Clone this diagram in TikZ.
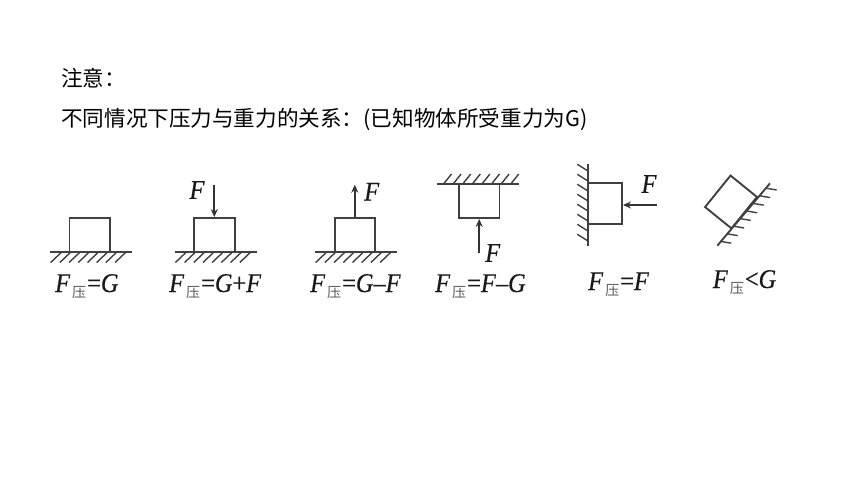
\documentclass[tikz,border=0pt]{standalone}
\usepackage{fontspec}
\setmainfont{Liberation Serif}
\newfontfamily\cjk{Noto Sans CJK SC}
\newfontfamily\formfont[FakeStretch=0.9,FakeBold=0.5]{Liberation Serif}
\usetikzlibrary{arrows.meta}
\newcommand{\Fya}{\textit{F}\hspace{2pt}\raisebox{-5.5pt}{\cjk\fontsize{14}{14}\selectfont\color{black!65}压}\hspace{1pt}}
\tikzset{
  block/.style={draw=black!75, line width=1.9pt, minimum width=40.5pt, minimum height=34pt, inner sep=0pt},
  surface/.style={draw=black!75, line width=1.9pt},
  hatch/.style={draw=black!75, line width=1.4pt},
  force/.style={-{Stealth[length=8pt,width=7pt]}, draw=black!80, line width=1.9pt},
  fname/.style={font=\formfont\fontsize{27}{27}\selectfont\itshape, text=black!90, inner sep=0pt},
  formula/.style={font=\formfont\fontsize{27}{27}\selectfont, text=black!90, inner sep=0pt, anchor=base west},
  note/.style={font=\cjk\fontsize{21.6}{21.6}\selectfont, text=black, inner sep=0pt, anchor=base west}
}
\begin{document}
\begin{tikzpicture}[x=1pt, y=-1pt]
\useasboundingbox (0, 0) rectangle (860, 484);

\node [note] (title) at (61, 87) {注意：};
\node [note] (line) at (61, 126.5) {不同情况下压力与重力的关系：(已知物体所受重力为G)};

% on the ground
\node [block] (block1) at (89.7, 235) {};
\coordinate (g1a) at (50, 252);
\coordinate (g1b) at (131.7, 252);
\draw [surface] (g1a) -- (g1b);
\foreach \i in {0,...,7} \draw [hatch] (61.7+9.2*\i, 252) -- ++(-11, 10.5);
\node [formula] (text1) at (55, 292) {\Fya=\textit{G}};

% pressed down
\node [block] (block2) at (214.3, 235) {};
\coordinate (g2a) at (174.7, 252);
\coordinate (g2b) at (256.7, 252);
\coordinate (tail2) at (214.3, 184.7);
\draw [surface] (g2a) -- (g2b);
\foreach \i in {0,...,7} \draw [hatch] (186.4+9.2*\i, 252) -- ++(-11, 10.5);
\draw [force] (tail2) -- (block2.north);
\node [fname] (f2) at (197, 190) {F};
\node [formula] (text2) at (169, 292) {\Fya=\textit{G}+\textit{F}};

% pulled up
\node [block] (block3) at (354.8, 235) {};
\coordinate (g3a) at (315, 252);
\coordinate (g3b) at (397, 252);
\coordinate (tail3) at (354.8, 184.7);
\draw [surface] (g3a) -- (g3b);
\foreach \i in {0,...,7} \draw [hatch] (326.7+9.2*\i, 252) -- ++(-11, 10.5);
\draw [force] (block3.north) -- (tail3);
\node [fname] (f3) at (371.7, 191.7) {F};
\node [formula] (text3) at (310, 292) {\Fya=\textit{G}–\textit{F}};

% pushed against the ceiling
\node [block] (block4) at (479.2, 201) {};
\coordinate (g4a) at (436.7, 184);
\coordinate (g4b) at (519.3, 184);
\coordinate (tail4) at (479.2, 252.7);
\draw [surface] (g4a) -- (g4b);
\foreach \i in {0,...,7} \draw [hatch] (443.5+9.6*\i, 184) -- ++(8, -10);
\draw [force] (tail4) -- (block4.south);
\node [fname] (f4) at (492.7, 253) {F};
\node [formula] (text4) at (435, 292) {\Fya=\textit{F}–\textit{G}};

% pushed against the wall
\node [block, minimum width=34pt, minimum height=40.5pt] (block5) at (605, 203.5) {};
\coordinate (g5a) at (588, 164);
\coordinate (g5b) at (588, 245.7);
\coordinate (tail5) at (656.7, 205);
\draw [surface] (g5a) -- (g5b);
\foreach \i in {0,...,7} \draw [hatch] (588, 171+10*\i) -- ++(-10.7, -6.7);
\draw [force] (tail5) -- (block5.east |- tail5);
\node [fname] (f5) at (649, 184) {F};
\node [formula] (text5) at (588, 290) {\Fya=\textit{F}};

% on the slope
\node [block, rotate=51] (block6) at (731, 202) {};
\coordinate (g6a) at (770, 183.3);
\coordinate (g6b) at (717.3, 245.7);
\draw [surface] (g6a) -- (g6b);
\foreach \i in {0,...,7} \draw [hatch] (766.7-6.5*\i, 188.3+7.6*\i) -- ++(10, 1.7);
\node [formula] (text6) at (712.7, 288) {\Fya<\textit{G}};
\end{tikzpicture}
\end{document}
